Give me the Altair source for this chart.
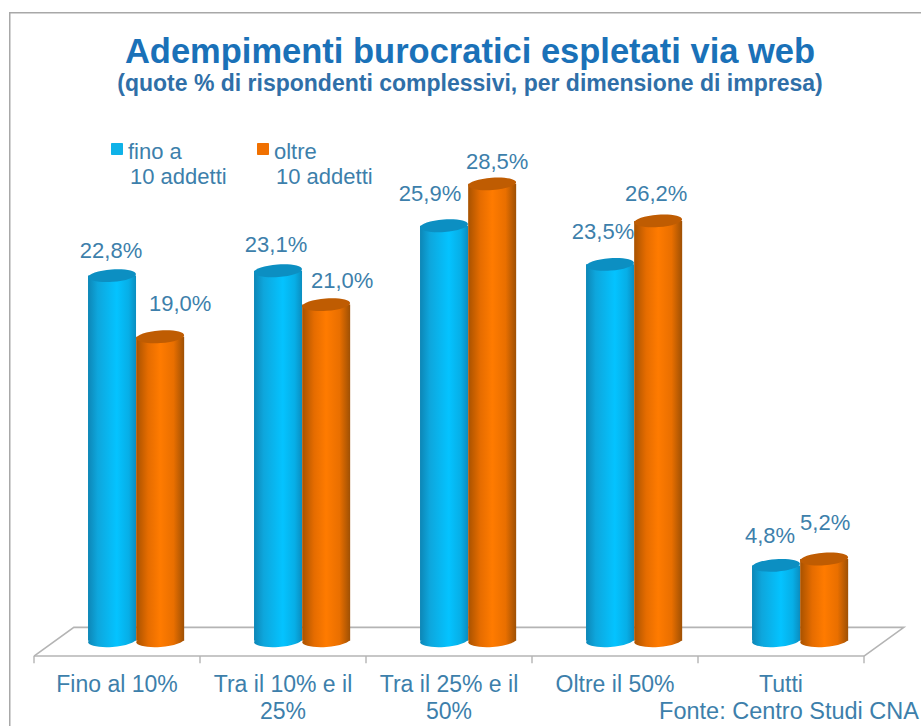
import altair as alt
import pandas as pd

# Survey shares by company size
categories = ["Fino al 10%", "Tra il 10% e il 25%", "Tra il 25% e il 50%", "Oltre il 50%", "Tutti"]
category_lines = [["Fino al 10%"], ["Tra il 10% e il", "25%"], ["Tra il 25% e il", "50%"], ["Oltre il 50%"], ["Tutti"]]
fino_a_10 = [22.8, 23.1, 25.9, 23.5, 4.8]
oltre_10 = [19.0, 21.0, 28.5, 26.2, 5.2]

TITLE = "Adempimenti burocratici espletati via web"
SUBTITLE = "(quote % di rispondenti complessivi, per dimensione di impresa)"
SOURCE = "Fonte: Centro Studi CNA"

# Layout
W, H, TOP = 921, 726, 116
SLOT = 166.0            # pixels per category slot
X0 = 34.0               # left end of the floor's front edge
PX_PER_UNIT = 16.1
BASE_Y = 642.7 - TOP    # pixel row of value 0 within the plot
BAR_W = 48
BLUE_SHIFT, ORANGE_SHIFT = -0.03, 0.26

x_scale = alt.Scale(domain=[-X0 / SLOT, (W - X0) / SLOT], range=[0, W], nice=False, zero=False, padding=0)
y_scale = alt.Scale(domain=[(BASE_Y - (H - TOP)) / PX_PER_UNIT, BASE_Y / PX_PER_UNIT],
                    range=[H - TOP, 0], nice=False, zero=False)
X = alt.X("x:Q", scale=x_scale, axis=None)
Y = alt.Y("y:Q", scale=y_scale, axis=None)

FONT = "Liberation Sans"
TEXT = "#3d7fab"
GREY = "#b4b4b4"
FRAME = "#a8a8a8"


def hgrad(*stops):
    return alt.Gradient(
        gradient="linear", x1=0, x2=1, y1=0, y2=0,
        stops=[alt.GradientStop(offset=o, color=c) for o, c in stops],
    )


BLUE_BODY = hgrad((0, "#0d86b6"), (0.2, "#0ea6dc"), (0.6, "#04c3ff"), (0.85, "#07aee6"), (1, "#0b8dbf"))
ORANGE_BODY = hgrad((0, "#a85200"), (0.25, "#e56c00"), (0.5, "#ff7b00"), (0.78, "#e96f00"), (1, "#9e5004"))

# Flattened ellipse, unit half-width, used for both ends of each cylinder
ELLIPSE = "M-1,0C-1,-0.14,-0.55,-0.26,0,-0.26C0.55,-0.26,1,-0.14,1,0C1,0.14,0.55,0.26,0,0.26C-0.55,0.26,-1,0.14,-1,0Z"
CAP_SIZE = BAR_W ** 2
FOOT_LIFT = -2


def cylinders(values, shift, body, cap):
    df = pd.DataFrame({
        "x": [i + 0.5 + shift for i in range(len(values))],
        "y": values,
        "base": [0.0] * len(values),
        "categoria": categories,
    })
    foot = alt.Chart(df).mark_point(shape=ELLIPSE, size=CAP_SIZE, filled=True, fill=body, opacity=1,
                                    strokeWidth=0, angle=356, yOffset=FOOT_LIFT).encode(
        x=X, y=alt.Y("base:Q", scale=y_scale, axis=None))
    shaft = alt.Chart(df).mark_bar(fill=body, size=BAR_W, orient="vertical", strokeWidth=0,
                                   y2Offset=FOOT_LIFT).encode(
        x=X, y=alt.Y("y:Q", scale=y_scale, axis=None, stack=None), y2="base:Q")
    top = alt.Chart(df).mark_point(shape=ELLIPSE, size=CAP_SIZE, filled=True, fill=cap, opacity=1,
                                   strokeWidth=0, angle=356).encode(x=X, y=Y)
    return [foot, shaft, top]


# Floor of the chart: front edge, back edge and the two receding sides
floor_x = [0.0, 0.24, 5.24, 5.0]
floor_y = [-0.83, 0.95, 0.95, -0.83]
floor = alt.Chart(pd.DataFrame({"x": floor_x, "y": floor_y, "o": range(4)})).mark_line(
    color=GREY, strokeWidth=1.6).encode(x=X, y=Y, order="o:O")
front = alt.Chart(pd.DataFrame({"x": [0.0, 5.0], "y": [-0.83, -0.83]})).mark_line(
    color=GREY, strokeWidth=1.6).encode(x=X, y=Y)
ticks = alt.Chart(pd.DataFrame({"x": range(6), "y": [-0.83] * 6, "y2": [-1.28] * 6})).mark_rule(
    color=GREY, strokeWidth=1.4).encode(x=X, y=Y, y2="y2:Q")

# Category captions under the floor
cat_df = pd.DataFrame({"x": [i + 0.5 for i in range(5)], "y": [-2.65] * 5, "t": category_lines})
cat_text = alt.Chart(cat_df).mark_text(font=FONT, fontSize=23, color=TEXT, align="center", baseline="middle",
                                       lineHeight=27).encode(x=X, y=Y, text="t:N")


def value_labels(values, shift, nudges):
    out = []
    for i, (v, (dx, dy)) in enumerate(zip(values, nudges)):
        d = pd.DataFrame({"x": [i + 0.5 + shift], "y": [v], "t": [f"{v:.1f}%".replace(".", ",")]})
        out.append(alt.Chart(d).mark_text(font=FONT, fontSize=22, color=TEXT, align="center", baseline="middle",
                                          dx=dx, dy=dy).encode(x=X, y=Y, text="t:N"))
    return out


blue_nudge = [(-1, -25), (-2, -26), (-14, -32), (-7, -32), (-6, -29)]
orange_nudge = [(20, -33), (16, -24), (5, -22), (-2, -27), (1, -36)]

# Hand-placed key with two-line captions
legend_items = ["fino a", "oltre"]
legend_second = ["10 addetti", "10 addetti"]
legend_colors = ["#0fb2e8", "#f07000"]
legend = []
for lx, name, second, col in zip([117, 263], legend_items, legend_second, legend_colors):
    legend.append(alt.Chart(pd.DataFrame({"n": [name]})).mark_rect(color=col, cornerRadius=1).encode(
        x=alt.value(lx - 6), x2=alt.value(lx + 6), y=alt.value(143 - TOP), y2=alt.value(155 - TOP)))
    legend.append(alt.Chart(pd.DataFrame({"n": [name]})).mark_text(
        font=FONT, fontSize=22, color=TEXT, align="left", baseline="middle").encode(
        x=alt.value(lx + 11), y=alt.value(152 - TOP), text="n:N"))
    legend.append(alt.Chart(pd.DataFrame({"n": [second]})).mark_text(
        font=FONT, fontSize=22, color=TEXT, align="left", baseline="middle").encode(
        x=alt.value(lx + 13), y=alt.value(177 - TOP), text="n:N"))

source = alt.Chart(pd.DataFrame({"n": [SOURCE]})).mark_text(
    font=FONT, fontSize=23.5, color=TEXT, align="right", baseline="middle").encode(
    x=alt.value(919), y=alt.value(712 - TOP), text="n:N")

# Heading lines sit above the plot area, inside the top padding
heading = alt.Chart(pd.DataFrame({"n": [TITLE]})).mark_text(
    font=FONT, fontSize=34.5, fontWeight="bold", color="#1a71b8", align="center", baseline="alphabetic").encode(
    x=alt.value(470), y=alt.value(63 - TOP), text="n:N")
subheading = alt.Chart(pd.DataFrame({"n": [SUBTITLE]})).mark_text(
    font=FONT, fontSize=23, fontWeight="bold", color="#2f6fa8", align="center", baseline="alphabetic").encode(
    x=alt.value(470), y=alt.value(91 - TOP), text="n:N")

# Outer frame, open on the right and bottom
frame_top = alt.Chart(pd.DataFrame({"a": [0]})).mark_rect(color=FRAME).encode(
    x=alt.value(9), x2=alt.value(W), y=alt.value(12 - TOP), y2=alt.value(13.5 - TOP))
frame_left = alt.Chart(pd.DataFrame({"a": [0]})).mark_rect(color=FRAME).encode(
    x=alt.value(9), x2=alt.value(10.5), y=alt.value(12 - TOP), y2=alt.value(H - TOP))

layers = [frame_top, frame_left, heading, subheading, floor, front, ticks, cat_text]
layers += cylinders(fino_a_10, BLUE_SHIFT, BLUE_BODY, "#0c8fc2")
layers += cylinders(oltre_10, ORANGE_SHIFT, ORANGE_BODY, "#bf5c02")
layers += value_labels(fino_a_10, BLUE_SHIFT, blue_nudge)
layers += value_labels(oltre_10, ORANGE_SHIFT, orange_nudge)
layers += legend + [source]

chart = alt.layer(*layers).resolve_scale(x="shared", y="shared").properties(
    width=W,
    height=H - TOP,
    padding={"left": 0, "right": 0, "top": TOP, "bottom": 0},
    autosize=alt.AutoSizeParams(type="none"),
    background="white",
).configure_view(stroke=None)

chart.save("out.html", embed_options={"renderer": "svg", "actions": False})
